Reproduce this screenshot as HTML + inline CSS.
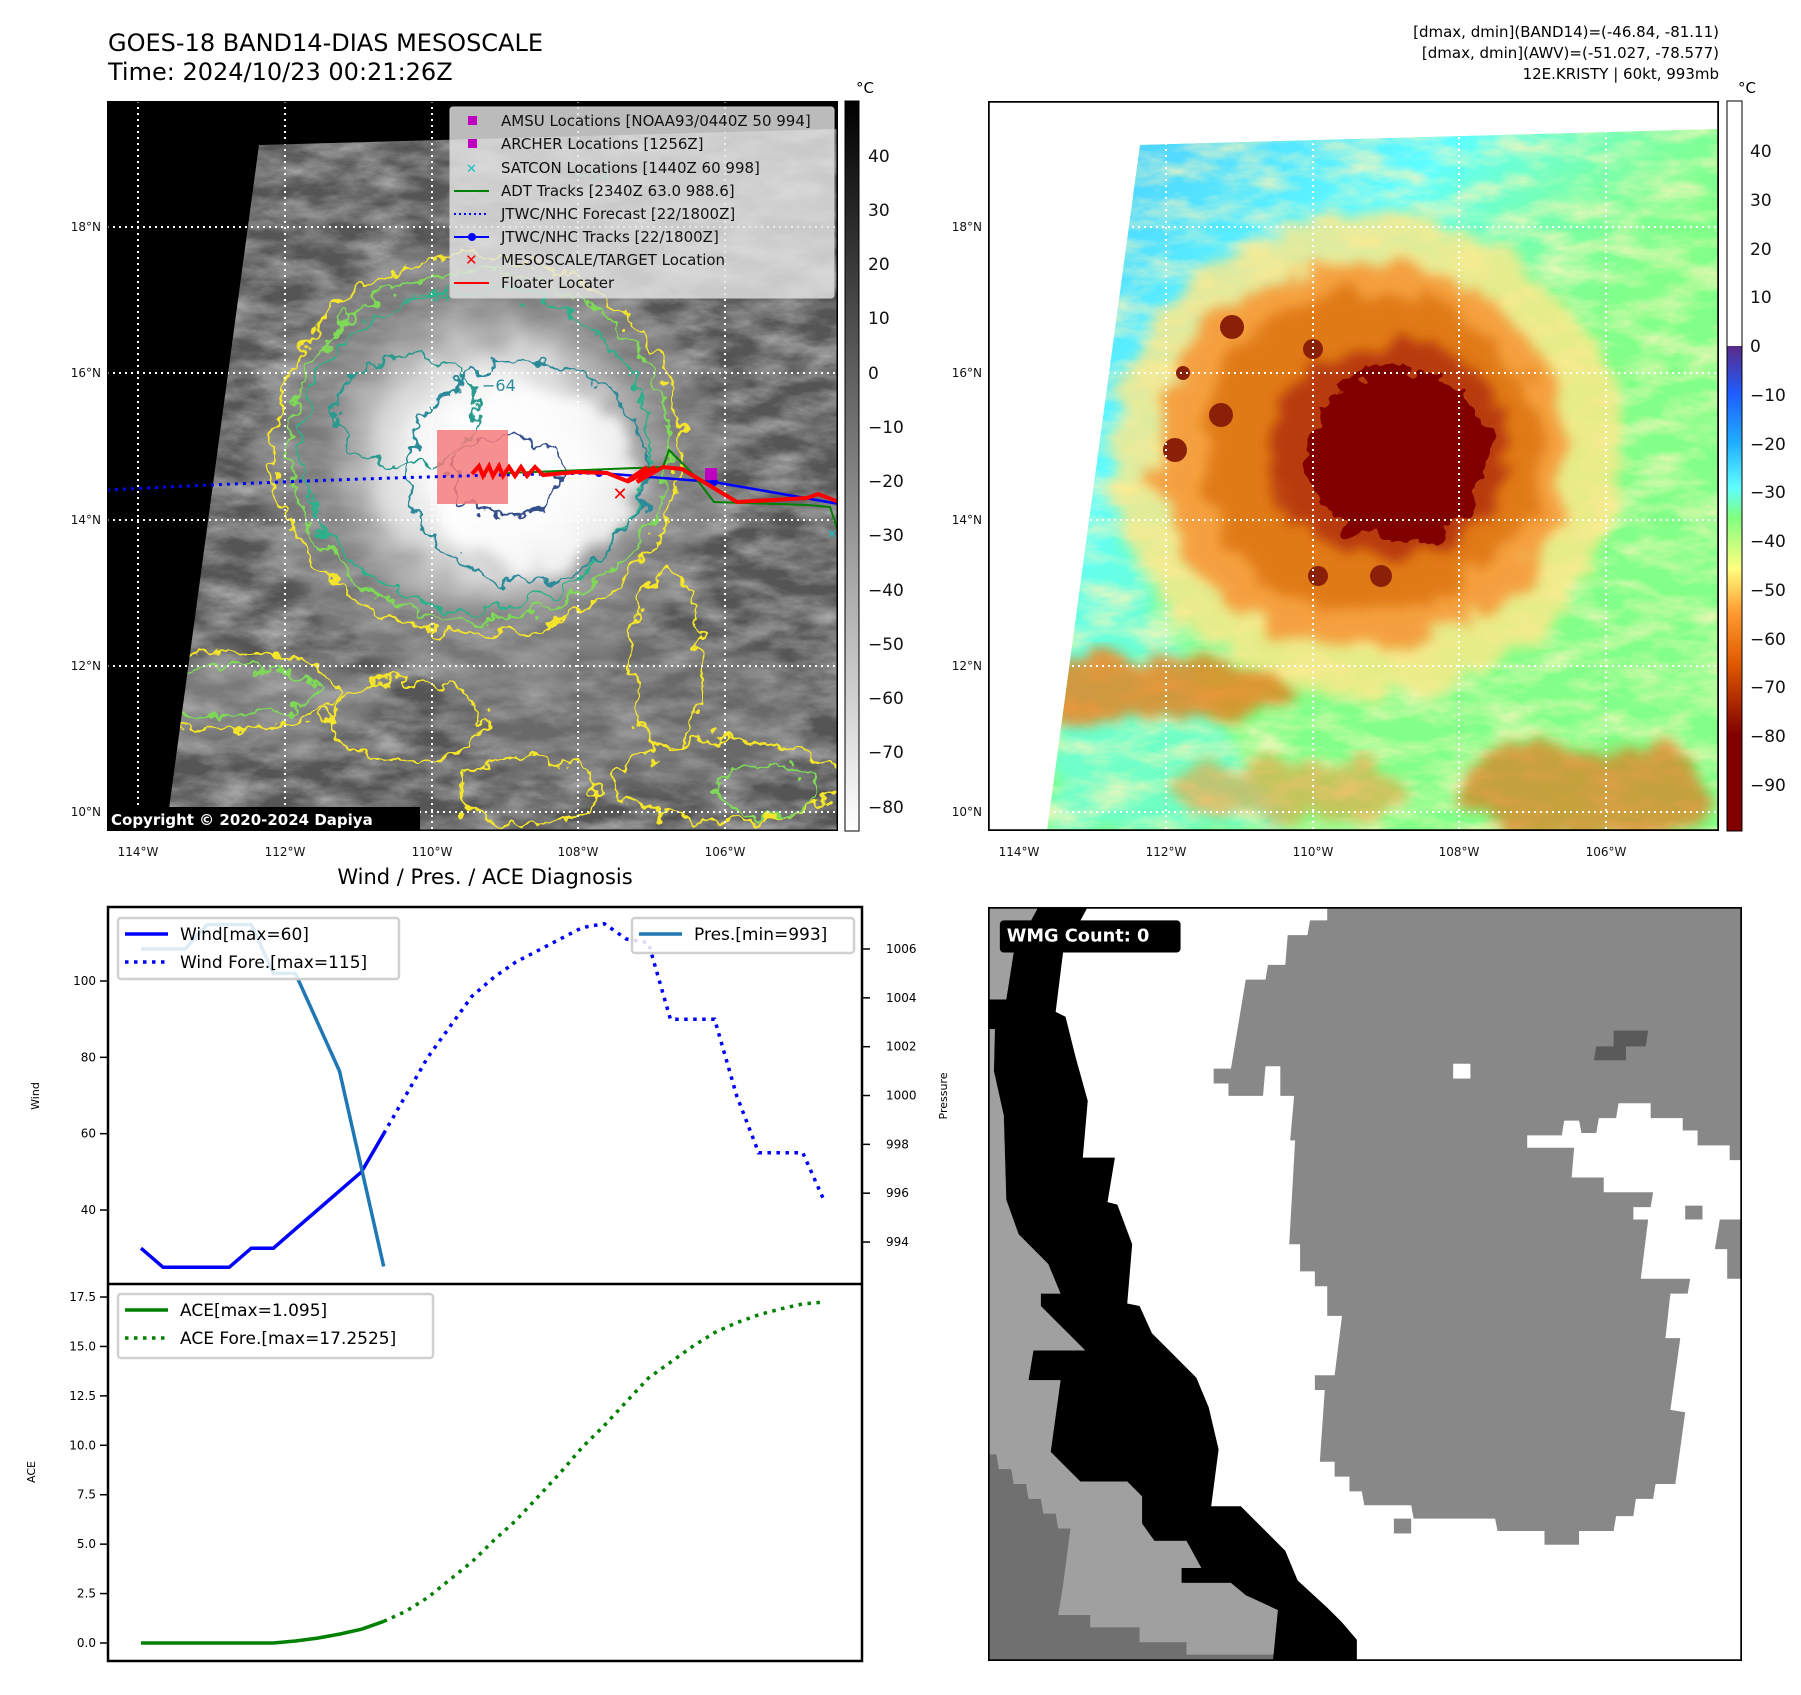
<!DOCTYPE html>
<html><head><meta charset="utf-8"><style>
html,body{margin:0;padding:0;background:#fff;}
svg text{font-family:"DejaVu Sans","Liberation Sans",sans-serif;}
</style></head><body>
<svg id="root" width="1801" height="1690" viewBox="0 0 1801 1690" xmlns="http://www.w3.org/2000/svg">
<defs>
  <filter id="wob" x="-20%" y="-20%" width="140%" height="140%">
    <feTurbulence type="fractalNoise" baseFrequency="0.035" numOctaves="3" seed="4" result="t"/>
    <feDisplacementMap in="SourceGraphic" in2="t" scale="40" xChannelSelector="R" yChannelSelector="G"/>
  </filter>
  <filter id="wob2" x="-20%" y="-20%" width="140%" height="140%">
    <feTurbulence type="fractalNoise" baseFrequency="0.05" numOctaves="3" seed="9" result="t"/>
    <feDisplacementMap in="SourceGraphic" in2="t" scale="30" xChannelSelector="R" yChannelSelector="G"/>
  </filter>
  <filter id="soft" x="-20%" y="-20%" width="140%" height="140%">
    <feTurbulence type="fractalNoise" baseFrequency="0.03" numOctaves="3" seed="2" result="t"/>
    <feDisplacementMap in="SourceGraphic" in2="t" scale="45" xChannelSelector="R" yChannelSelector="G" result="d"/>
    <feGaussianBlur in="d" stdDeviation="6"/>
  </filter>
  <filter id="grayNoise" x="0" y="0" width="100%" height="100%">
    <feTurbulence type="fractalNoise" baseFrequency="0.02 0.05" numOctaves="5" seed="7" result="t"/>
    <feColorMatrix in="t" type="matrix" values="0 0 0 0 0.75  0 0 0 0 0.75  0 0 0 0 0.75  1.1 0 0 0 -0.35"/>
    <feComposite in2="SourceGraphic" operator="in"/>
  </filter>
  <filter id="yelNoise" x="0" y="0" width="100%" height="100%">
    <feTurbulence type="fractalNoise" baseFrequency="0.02 0.05" numOctaves="5" seed="7" result="t"/>
    <feColorMatrix in="t" type="matrix" values="0 0 0 0 1  0 0 0 0 0.92  0 0 0 0 0.5  1.6 0 0 0 -0.6"/>
    <feComposite in2="SourceGraphic" operator="in"/>
  </filter>
  <radialGradient id="gCore" cx="0.5" cy="0.5" r="0.5">
    <stop offset="0" stop-color="#ffffff"/><stop offset="0.4" stop-color="#f6f6f6"/>
    <stop offset="0.6" stop-color="#d8d8d8"/><stop offset="0.85" stop-color="#a0a0a0" stop-opacity="0.6"/>
    <stop offset="1" stop-color="#888" stop-opacity="0"/>
  </radialGradient>
  <linearGradient id="cbGray" x1="0" y1="0" x2="0" y2="1">
    <stop offset="0" stop-color="#000"/><stop offset="1" stop-color="#fff"/>
  </linearGradient>
  <linearGradient id="cbColor" x1="0" y1="0" x2="0" y2="1">
    <stop offset="0" stop-color="#fff"/><stop offset="0.3356" stop-color="#fff"/>
    <stop offset="0.3357" stop-color="#5a2a88"/>
    <stop offset="0.40" stop-color="#1f5cff"/>
    <stop offset="0.47" stop-color="#20b0ff"/>
    <stop offset="0.53" stop-color="#60ffff"/>
    <stop offset="0.57" stop-color="#80ff80"/>
    <stop offset="0.64" stop-color="#ffff80"/>
    <stop offset="0.70" stop-color="#ff9c30"/>
    <stop offset="0.77" stop-color="#e05a00"/>
    <stop offset="0.84" stop-color="#9c1a00"/>
    <stop offset="0.87" stop-color="#800000"/>
    <stop offset="1" stop-color="#800000"/>
  </linearGradient>
  <linearGradient id="skyBlue" x1="0" y1="0" x2="1" y2="1">
    <stop offset="0" stop-color="#40b8ff"/><stop offset="0.35" stop-color="#60ffff"/><stop offset="0.6" stop-color="#80ff90" stop-opacity="0"/>
  </linearGradient>
  <clipPath id="swath"><polygon points="152,44 731,28 731,730 59,730"/></clipPath>
  <clipPath id="chartTop"><rect x="108" y="907" width="754" height="377"/></clipPath>
  <clipPath id="chartBot"><rect x="108" y="1284" width="754" height="377"/></clipPath>
</defs>

<text x="108" y="51" font-size="24">GOES-18 BAND14-DIAS MESOSCALE</text>
<text x="108" y="80" font-size="24">Time: 2024/10/23 00:21:26Z</text>
<g font-size="15" text-anchor="end">
  <text x="1719" y="37">[dmax, dmin](BAND14)=(-46.84, -81.11)</text>
  <text x="1719" y="58">[dmax, dmin](AWV)=(-51.027, -78.577)</text>
  <text x="1719" y="79">12E.KRISTY | 60kt, 993mb</text>
</g>

<svg x="107" y="101" width="731" height="730">
  <rect width="731" height="730" fill="#000"/>
  <g clip-path="url(#swath)">
    <rect width="731" height="730" fill="#555"/>
    <rect width="731" height="730" fill="#fff" filter="url(#grayNoise)"/>
    <ellipse cx="380" cy="360" rx="230" ry="220" fill="#9a9a9a" opacity="0.5" filter="url(#soft)"/>
    <ellipse cx="120" cy="600" rx="160" ry="45" fill="#a0a0a0" opacity="0.5" filter="url(#soft)"/>
    <ellipse cx="520" cy="610" rx="180" ry="80" fill="#909090" opacity="0.35" filter="url(#soft)"/>
    <ellipse cx="385" cy="360" rx="190" ry="180" fill="url(#gCore)" filter="url(#soft)"/>
    <ellipse cx="430" cy="378" rx="100" ry="90" fill="#fff" opacity="0.75" filter="url(#soft)"/>
    <g fill="none" stroke-width="2.6" filter="url(#wob2)">
      <ellipse cx="370" cy="345" rx="205" ry="190" stroke="#f5e52a"/>
      <ellipse cx="372" cy="345" rx="190" ry="175" stroke="#7ed957"/>
      <ellipse cx="368" cy="348" rx="175" ry="160" stroke="#2fb08a"/>
      <ellipse cx="300" cy="310" rx="70" ry="55" stroke="#2a9a8f"/>
      <ellipse cx="420" cy="370" rx="120" ry="110" stroke="#2a8a99"/>
      <ellipse cx="400" cy="375" rx="55" ry="40" stroke="#354f8c"/>
      <ellipse cx="120" cy="590" rx="110" ry="40" stroke="#f5e52a"/>
      <ellipse cx="130" cy="590" rx="80" ry="25" stroke="#7ed957"/>
      <ellipse cx="300" cy="620" rx="80" ry="40" stroke="#f5e52a"/>
      <ellipse cx="560" cy="560" rx="35" ry="90" stroke="#f5e52a"/>
      <ellipse cx="620" cy="680" rx="110" ry="40" stroke="#f5e52a"/>
      <ellipse cx="660" cy="690" rx="50" ry="25" stroke="#7ed957"/>
      <ellipse cx="420" cy="690" rx="70" ry="35" stroke="#f5e52a"/>
    </g>
    <g stroke="#fff" stroke-width="2" stroke-dasharray="2 4" fill="none">
      <line x1="31" y1="0" x2="31" y2="730"/><line x1="178" y1="0" x2="178" y2="730"/><line x1="325" y1="0" x2="325" y2="730"/><line x1="471" y1="0" x2="471" y2="730"/><line x1="618" y1="0" x2="618" y2="730"/>
      <line x1="0" y1="126" x2="731" y2="126"/><line x1="0" y1="272" x2="731" y2="272"/><line x1="0" y1="419" x2="731" y2="419"/><line x1="0" y1="565" x2="731" y2="565"/><line x1="0" y1="711" x2="731" y2="711"/>
    </g>
  </g>
  <g stroke="#fff" stroke-width="2" stroke-dasharray="2 4" fill="none">
    <line x1="31" y1="0" x2="31" y2="730"/><line x1="178" y1="0" x2="178" y2="42"/><line x1="325" y1="0" x2="325" y2="38"/><line x1="471" y1="0" x2="471" y2="34"/><line x1="618" y1="0" x2="618" y2="30"/>
    <line x1="0" y1="126" x2="140" y2="126"/><line x1="0" y1="272" x2="120" y2="272"/><line x1="0" y1="419" x2="100" y2="419"/><line x1="0" y1="565" x2="80" y2="565"/><line x1="0" y1="711" x2="62" y2="711"/>
  </g>
  <rect x="330" y="329" width="71" height="74" fill="#f47c7c" opacity="0.85"/>
  <path d="M0,389 Q250,376 492,372" stroke="#0000ff" stroke-width="3" stroke-dasharray="3 5" fill="none"/>
  <polyline points="492,372 607,381 732,403" stroke="#0000ff" stroke-width="2.5" fill="none"/>
  <circle cx="492" cy="372" r="4" fill="#0000ff"/><circle cx="607" cy="381" r="4" fill="#0000ff"/>
  <polyline points="400,372 556,366 562,349 585,372 607,401 700,404 723,406 732,433" stroke="#008000" stroke-width="2" fill="none"/>
  <polyline points="365,373 372,365 376,375 382,365 386,375 392,365 396,375 402,366 408,375 414,366 420,375 428,366 436,374 470,371 500,372 520,380 540,366 520,381 548,366 530,381 556,366 575,368 630,401 700,397 711,393 732,401" stroke="#ff0000" stroke-width="4" fill="none"/>
  <text x="513" y="399" font-size="18" font-weight="bold" fill="#ff0000" text-anchor="middle">✕</text>
  <rect x="598" y="367" width="12" height="12" fill="#c000c0"/>
  <text x="725" y="437" font-size="12" fill="#10c0c0" text-anchor="middle">✕</text>
  <g font-size="16" fill="#2a8a99">
    <text x="310" y="200" fill="#2fb08a">−54</text><text x="375" y="290">−64</text><text x="470" y="80" fill="#2fb08a">−54</text>
  </g>
  <g>
    <rect x="343" y="6" width="384" height="191" rx="3" fill="#e4e4e4" fill-opacity="0.82" stroke="#cfcfcf"/>
    <g font-size="15" fill="#111">
      <rect x="361" y="15" width="9" height="9" fill="#c000c0"/><text x="394" y="25">AMSU Locations [NOAA93/0440Z 50 994]</text>
      <rect x="361" y="38" width="9" height="9" fill="#c000c0"/><text x="394" y="48">ARCHER Locations [1256Z]</text>
      <text x="359" y="72" fill="#10c0c0" font-size="13">✕</text><text x="394" y="72">SATCON Locations [1440Z 60 998]</text>
      <line x1="347" y1="90" x2="382" y2="90" stroke="#008000" stroke-width="2"/><text x="394" y="95">ADT Tracks [2340Z 63.0 988.6]</text>
      <line x1="347" y1="113" x2="382" y2="113" stroke="#0000ff" stroke-width="2" stroke-dasharray="2 3"/><text x="394" y="118">JTWC/NHC Forecast [22/1800Z]</text>
      <line x1="347" y1="136" x2="382" y2="136" stroke="#0000ff" stroke-width="2"/><circle cx="365" cy="136" r="4" fill="#0000ff"/><text x="394" y="141">JTWC/NHC Tracks [22/1800Z]</text>
      <text x="358" y="164" fill="#ff0000" font-weight="bold" font-size="15">✕</text><text x="394" y="164">MESOSCALE/TARGET Location</text>
      <line x1="347" y1="182" x2="382" y2="182" stroke="#ff0000" stroke-width="2"/><text x="394" y="187">Floater Locater</text>
    </g>
  </g>
  <rect x="0" y="706" width="313" height="24" fill="#000"/>
  <text x="4" y="724" font-size="15" font-weight="bold" fill="#fff">Copyright © 2020-2024 Dapiya</text>
  <rect x="0.5" y="0.5" width="730" height="729" fill="none" stroke="#000" stroke-width="2"/>
</svg>

<g font-size="12" fill="#111">
  <g text-anchor="end"><text x="101" y="231">18°N</text><text x="101" y="377">16°N</text><text x="101" y="524">14°N</text><text x="101" y="670">12°N</text><text x="101" y="816">10°N</text></g>
  <g text-anchor="middle"><text x="138" y="856">114°W</text><text x="285" y="856">112°W</text><text x="432" y="856">110°W</text><text x="578" y="856">108°W</text><text x="725" y="856">106°W</text></g>
</g>
<g>
  <rect x="845" y="101" width="14" height="730" fill="url(#cbGray)" stroke="#000" stroke-width="1"/>
  <text x="856" y="93" font-size="15">°C</text>
  <g font-size="17" fill="#111">
    <text x="868" y="162">40</text><text x="868" y="216">30</text><text x="868" y="270">20</text><text x="868" y="324">10</text><text x="868" y="379">0</text>
    <text x="868" y="433">−10</text><text x="868" y="487">−20</text><text x="868" y="541">−30</text><text x="868" y="596">−40</text><text x="868" y="650">−50</text><text x="868" y="704">−60</text><text x="868" y="758">−70</text><text x="868" y="813">−80</text>
  </g>
</g>

<svg x="988" y="101" width="731" height="730">
  <rect width="731" height="730" fill="#fff"/>
  <g clip-path="url(#swath)">
    <rect width="731" height="730" fill="#82ff88"/>
    <rect width="731" height="730" fill="url(#skyBlue)"/>
    <polygon points="59,730 100,400 300,730" fill="#60ffff" opacity="0.5" filter="url(#soft)"/>
    <rect width="731" height="730" fill="#fff" filter="url(#yelNoise)"/>
    <ellipse cx="150" cy="590" rx="160" ry="35" fill="#e8801c" opacity="0.8" filter="url(#soft)"/>
    <ellipse cx="600" cy="690" rx="130" ry="50" fill="#e07a1a" opacity="0.7" filter="url(#soft)"/>
    <ellipse cx="300" cy="690" rx="120" ry="30" fill="#f0a040" opacity="0.6" filter="url(#soft)"/>
    <ellipse cx="380" cy="355" rx="255" ry="240" fill="#ffe888" opacity="0.8" filter="url(#soft)"/>
    <ellipse cx="375" cy="355" rx="205" ry="195" fill="#f5a040" filter="url(#soft)"/>
    <ellipse cx="380" cy="350" rx="170" ry="160" fill="#e07a18" filter="url(#soft)"/>
    <ellipse cx="400" cy="350" rx="120" ry="110" fill="#b83a08" filter="url(#soft)"/>
    <ellipse cx="410" cy="355" rx="92" ry="85" fill="#800000" filter="url(#wob)"/>
    <g fill="#8a2008">
      <circle cx="244" cy="226" r="12"/><circle cx="325" cy="248" r="10"/><circle cx="195" cy="272" r="7"/><circle cx="233" cy="314" r="12"/><circle cx="187" cy="349" r="12"/><circle cx="330" cy="475" r="10"/><circle cx="393" cy="475" r="11"/>
    </g>
    <g stroke="#fff" stroke-width="2" stroke-dasharray="2 4" fill="none">
      <line x1="31" y1="0" x2="31" y2="730"/><line x1="178" y1="0" x2="178" y2="730"/><line x1="325" y1="0" x2="325" y2="730"/><line x1="471" y1="0" x2="471" y2="730"/><line x1="618" y1="0" x2="618" y2="730"/>
      <line x1="0" y1="126" x2="731" y2="126"/><line x1="0" y1="272" x2="731" y2="272"/><line x1="0" y1="419" x2="731" y2="419"/><line x1="0" y1="565" x2="731" y2="565"/><line x1="0" y1="711" x2="731" y2="711"/>
    </g>
  </g>
  <rect x="0.5" y="0.5" width="730" height="729" fill="none" stroke="#000" stroke-width="2.5"/>
</svg>
<g font-size="12" fill="#111">
  <g text-anchor="end"><text x="982" y="231">18°N</text><text x="982" y="377">16°N</text><text x="982" y="524">14°N</text><text x="982" y="670">12°N</text><text x="982" y="816">10°N</text></g>
  <g text-anchor="middle"><text x="1019" y="856">114°W</text><text x="1166" y="856">112°W</text><text x="1313" y="856">110°W</text><text x="1459" y="856">108°W</text><text x="1606" y="856">106°W</text></g>
</g>
<g>
  <rect x="1727" y="101" width="15" height="730" fill="url(#cbColor)" stroke="#000" stroke-width="1"/>
  <text x="1738" y="93" font-size="15">°C</text>
  <g font-size="17" fill="#111">
    <text x="1750" y="157">40</text><text x="1750" y="206">30</text><text x="1750" y="255">20</text><text x="1750" y="303">10</text><text x="1750" y="352">0</text>
    <text x="1750" y="401">−10</text><text x="1750" y="450">−20</text><text x="1750" y="498">−30</text><text x="1750" y="547">−40</text><text x="1750" y="596">−50</text><text x="1750" y="645">−60</text><text x="1750" y="693">−70</text><text x="1750" y="742">−80</text><text x="1750" y="791">−90</text>
  </g>
</g>

<svg x="988" y="907" width="754" height="754" viewBox="8 8 1527 1525" preserveAspectRatio="none">
  <rect x="8" y="8" width="1527" height="1525" fill="#fff"/>
  <polygon fill="#a0a0a0" points="8,8 110,8 60,100 45,195 8,195 8,255 22,255 20,340 40,430 45,600 70,670 100,700 130,730 155,790 115,790 115,815 145,845 175,875 205,905 100,905 90,965 155,965 135,1110 165,1140 195,1170 290,1170 320,1200 320,1255 345,1290 410,1290 440,1345 400,1345 400,1375 500,1375 530,1400 595,1430 585,1533 8,1533"/>
  <polygon fill="#707070" points="8,1115 25,1115 30,1145 55,1145 60,1175 85,1175 90,1205 115,1205 120,1235 145,1235 150,1265 175,1265 160,1380 150,1440 215,1440 215,1465 315,1465 315,1495 410,1495 410,1520 650,1520 650,1533 8,1533"/>
  <polygon fill="#000" points="110,8 60,100 45,195 8,195 8,255 22,255 20,340 40,430 45,600 70,670 100,700 130,730 155,790 115,790 115,815 145,845 175,875 205,905 100,905 90,965 155,965 135,1110 165,1140 195,1170 290,1170 320,1200 320,1255 345,1290 410,1290 440,1345 400,1345 400,1375 500,1375 530,1400 595,1430 585,1533 755,1533 755,1490 725,1455 695,1425 635,1370 610,1310 580,1280 550,1250 520,1220 460,1220 475,1105 455,1020 430,960 400,930 370,900 340,870 315,815 290,810 300,690 270,610 250,605 265,515 200,515 210,400 185,310 165,230 145,220 160,100 210,8"/>
  <polygon fill="#888" points="695,8 1535,8 1535,520 1510,520 1510,490 1445,490 1445,460 1415,460 1415,435 1350,435 1350,405 1285,405 1280,435 1245,435 1240,465 1210,465 1205,440 1175,440 1170,470 1100,470 1100,495 1195,495 1190,555 1255,555 1255,585 1355,585 1350,615 1315,615 1315,640 1345,640 1330,760 1430,760 1425,790 1390,790 1380,880 1410,880 1390,1025 1420,1030 1400,1175 1360,1175 1355,1205 1320,1205 1315,1240 1280,1240 1275,1270 1205,1270 1205,1298 1135,1298 1135,1270 1040,1270 1035,1245 870,1245 865,1218 770,1218 765,1190 740,1190 740,1160 710,1160 710,1130 680,1130 690,985 670,985 670,955 710,955 725,835 695,835 695,775 670,775 670,745 640,745 640,690 618,690 630,480 620,480 628,390 600,390 600,330 570,330 565,390 495,390 495,365 465,365 465,335 500,335 530,155 570,155 575,125 610,125 615,65 655,65 660,35 695,35"/>
  <polygon fill="#888" points="1490,640 1535,640 1535,760 1505,760 1505,700 1480,700"/>
  <rect x="950" y="325" width="35" height="30" fill="#fff"/>
  <polygon fill="#5a5a5a" points="1275,258 1345,258 1340,290 1300,290 1300,318 1235,318 1240,290 1275,290"/>
  <rect x="1420" y="612" width="35" height="28" fill="#888"/>
  <rect x="830" y="1245" width="35" height="30" fill="#888"/>
  <rect x="32" y="35" width="366" height="65" rx="8" fill="#000"/>
  <text x="46" y="78" font-size="36" font-weight="bold" fill="#fff">WMG Count: 0</text>
  <rect x="9" y="9" width="1525" height="1523" fill="none" stroke="#000" stroke-width="5"/>
</svg>

<text x="485" y="884" font-size="21" text-anchor="middle">Wind / Pres. / ACE Diagnosis</text>
<g id="chart"></g>
</svg>

<script>
const windObs = [30,25,25,25,25,30,30,35,40,45,50,60];
const windFore = [60,70,80,88,96,101,105,108,111,114,115,111,110,90,90,90,70,55,55,55,42];
const presObs = [1006,1006,1006,1007,1007,1007,1005,1005,1003,1001,997,993];
const aceObs = [0,0,0,0,0,0,0,0.1,0.25,0.45,0.7,1.095];
const aceFore = [1.095,1.6,2.3,3.2,4.1,5.2,6.2,7.4,8.6,9.9,11.0,12.2,13.4,14.2,15.0,15.7,16.2,16.6,16.9,17.15,17.25];
const windTicks = [40,60,80,100];
const presTicks = [994,996,998,1000,1002,1004,1006];
const aceTicks = ["0.0","2.5","5.0","7.5","10.0","12.5","15.0","17.5"];
const foreStart = 11;

const NS = "http://www.w3.org/2000/svg";
const chart = document.getElementById("chart");
function xS(i){ return 141 + i*22.06; }
function yW(v){ return 981 + (100-v)*3.817; }
function yP(p){ return 949 + (1006-p)*24.42; }
function yA(a){ return 1643 - a*19.77; }
function mk(tag, attrs, parent){
  const e = document.createElementNS(NS, tag);
  for (const k in attrs) e.setAttribute(k, attrs[k]);
  (parent||chart).appendChild(e);
  return e;
}
function pts(arr, off, fy){ return arr.map((v,i)=> xS(i+off).toFixed(1)+","+fy(v).toFixed(1)).join(" "); }

let bg = mk("rect",{x:108,y:907,width:754,height:754,fill:"#fff"});



const gTop = mk("g",{"clip-path":"url(#chartTop)"});
let l1 = mk("polyline",{points:pts(windObs,0,yW),fill:"none",stroke:"#0000ff","stroke-width":3.5},gTop);


let l2 = mk("polyline",{points:pts(windFore,foreStart,yW),fill:"none",stroke:"#0000ff","stroke-width":3.5,"stroke-dasharray":"3.5 5.5"},gTop);


let l3 = mk("polyline",{points:pts(presObs,0,yP),fill:"none",stroke:"#1f77b4","stroke-width":3.5},gTop);



const gBot = mk("g",{"clip-path":"url(#chartBot)"});
let l4 = mk("polyline",{points:pts(aceObs,0,yA),fill:"none",stroke:"#008000","stroke-width":3.5},gBot);


let l5 = mk("polyline",{points:pts(aceFore,foreStart,yA),fill:"none",stroke:"#008000","stroke-width":3.5,"stroke-dasharray":"3.5 5.5"},gBot);



windTicks.forEach(v=>{
  const y = yW(v);
  let t = mk("line",{x1:100,y1:y,x2:108,y2:y,stroke:"#000","stroke-width":1.5});
  
  
  let tx = mk("text",{x:96,y:y+4,"font-size":12,"text-anchor":"end"});
  tx.textContent = v;
  
  
});
presTicks.forEach(v=>{
  const y = yP(v);
  let t = mk("line",{x1:862,y1:y,x2:870,y2:y,stroke:"#000","stroke-width":1.5});
  
  
  let tx = mk("text",{x:886,y:y+4,"font-size":12});
  tx.textContent = v;
  
  
});
aceTicks.forEach(s=>{
  const y = yA(parseFloat(s));
  let t = mk("line",{x1:100,y1:y,x2:108,y2:y,stroke:"#000","stroke-width":1.5});
  
  
  let tx = mk("text",{x:96,y:y+4,"font-size":12,"text-anchor":"end"});
  tx.textContent = s;
  
  
});

let a1 = mk("text",{x:0,y:0,"font-size":11,"text-anchor":"middle",transform:"translate(39,1096) rotate(-90)"});
a1.textContent = "Wind";


let a2 = mk("text",{x:0,y:0,"font-size":11,"text-anchor":"middle",transform:"translate(947,1096) rotate(-90)"});
a2.textContent = "Pressure";


let a3 = mk("text",{x:0,y:0,"font-size":11,"text-anchor":"middle",transform:"translate(35,1472) rotate(-90)"});
a3.textContent = "ACE";



function legend(name, x, y, w, h, items){
  const g = mk("g",{});
  
  
  mk("rect",{x:x,y:y,width:w,height:h,rx:3,fill:"#fff","fill-opacity":0.85,stroke:"#d0d0d0","stroke-width":2.5},g);
  items.forEach((it,k)=>{
    const yy = y + 16 + k*28;
    mk("line",{x1:x+7,y1:yy,x2:x+50,y2:yy,stroke:it.c,"stroke-width":3.5,"stroke-dasharray":it.d||"none"},g);
    const t = mk("text",{x:it.tx||x+62,y:yy+6,"font-size":17},g);
    t.textContent = it.t;
  });
}
legend("wind-legend",118,918,281,61,[{c:"#0000ff",t:"Wind[max=60]"},{c:"#0000ff",t:"Wind Fore.[max=115]",d:"3.5 5.5"}]);
legend("pressure-legend",632,918,222,35,[{c:"#1f77b4",t:"Pres.[min=993]",tx:694}]);
legend("ace-legend",118,1294,315,64,[{c:"#008000",t:"ACE[max=1.095]"},{c:"#008000",t:"ACE Fore.[max=17.2525]",d:"3.5 5.5"}]);

let f1 = mk("rect",{x:108,y:907,width:754,height:754,fill:"none",stroke:"#000","stroke-width":2.5});


let f2 = mk("line",{x1:108,y1:1284,x2:862,y2:1284,stroke:"#000","stroke-width":2.5});


</script>
</body></html>
